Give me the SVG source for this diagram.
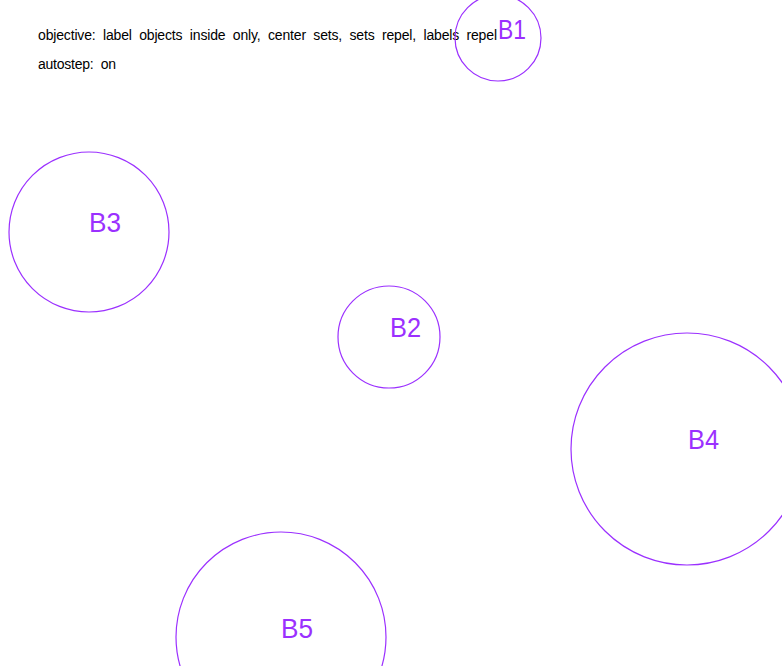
<svg xmlns="http://www.w3.org/2000/svg" width="782" height="666" viewBox="0 0 782 666">
<style>
.set{fill:none;stroke:#9b30ff;stroke-width:1.2}
.lbl{fill:#9b30ff;font-family:"Liberation Sans",Arial,sans-serif;font-size:28px;font-weight:normal}
.hdr{fill:#000;font-family:"Liberation Sans",Arial,sans-serif;font-size:14px;white-space:pre}
</style>
<rect width="782" height="666" fill="#fff"/>
<g id="header">
<text class="hdr" xml:space="preserve" x="38" y="40" textLength="459" lengthAdjust="spacing">objective:  label  objects  inside  only,  center  sets,  sets  repel,  labels  repel</text>
<text class="hdr" xml:space="preserve" x="38" y="69" textLength="78" lengthAdjust="spacing">autostep:  on</text>
</g>
<g id="B1"><circle class="set" cx="498" cy="38" r="43"/><text class="lbl" x="498" y="39" textLength="28" lengthAdjust="spacingAndGlyphs">B1</text></g>
<g id="B2"><circle class="set" cx="389" cy="337" r="51"/><text class="lbl" x="390" y="337" textLength="31" lengthAdjust="spacingAndGlyphs">B2</text></g>
<g id="B3"><circle class="set" cx="89" cy="232" r="80"/><text class="lbl" x="89" y="232" textLength="32" lengthAdjust="spacingAndGlyphs">B3</text></g>
<g id="B4"><circle class="set" cx="687" cy="449" r="116"/><text class="lbl" x="688" y="449" textLength="31" lengthAdjust="spacingAndGlyphs">B4</text></g>
<g id="B5"><circle class="set" cx="281" cy="637" r="105"/><text class="lbl" x="281" y="638" textLength="32" lengthAdjust="spacingAndGlyphs">B5</text></g>
<g id="connectors"/>
</svg>
